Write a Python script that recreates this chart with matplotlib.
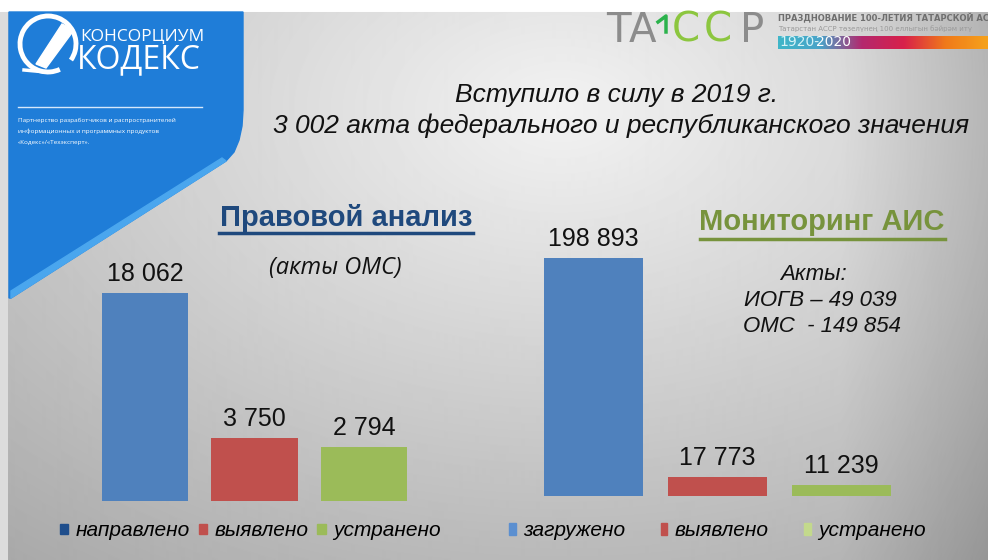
import numpy as np
import matplotlib
matplotlib.use('Agg')
import matplotlib.pyplot as plt
from matplotlib.patches import Polygon, Arc, Patch
from matplotlib.colors import LinearSegmentedColormap

# ============ DATA ============
left_categories = ['направлено', 'выявлено', 'устранено']
left_values = [18062, 3750, 2794]
right_categories = ['загружено', 'выявлено', 'устранено']
right_values = [198893, 17773, 11239]

bar_colors = ['#4f81bd', '#c0504d', '#9bbb59']
left_legend_colors = ['#1f4e8c', '#c0504d', '#9bbb59']
right_legend_colors = ['#5b8fd0', '#c0504d', '#c3d98c']

header_lines = ['Вступило в силу в 2019 г.',
                '3 002 акта федерального и республиканского значения']
ais_notes = ['Акты:', 'ИОГВ – 49 039', 'ОМС  - 149 854']

W, H = 988, 560
fig = plt.figure(figsize=(W / 100, H / 100), dpi=100)

# ============ BACKGROUND (pixel coords) ============
bg = fig.add_axes([0, 0, 1, 1])
bg.axis('off')

yy, xx = np.mgrid[0:H, 0:W]
r = np.sqrt(((xx - 560) / 800.0) ** 2 + ((yy - 110) / 520.0) ** 2)
g = 0.95 - 0.26 * r
g -= 0.10 * np.clip((xx - 840) / 148.0, 0, 1)
g = np.clip(g, 0.55, 1.0)
g[:, :8] = 0.86
g[:12, :] = 1.0
bg.imshow(g, cmap='gray', vmin=0, vmax=1, extent=(0, W, H, 0), aspect='auto',
          interpolation='bilinear')

# blue corner shape
blue_pts = [(9, 12), (243, 12), (243, 110), (242, 126), (239, 140), (234, 152),
            (226, 161), (11, 298), (9, 298)]
bg.add_patch(Polygon(blue_pts, closed=True, color='#1f7dd8', zorder=2))
band = [(226, 161), (11, 298), (11, 291), (222, 158)]
bg.add_patch(Polygon(band, closed=True, color='#4aa6ee', zorder=3))

# Kodeks logo
bg.add_patch(Arc((48, 44), 56, 56, theta1=65, theta2=395, color='white', lw=3.5, zorder=4))
bg.add_patch(Polygon([(36, 64), (62, 24), (74, 30), (46, 68)], closed=True,
                     color='white', zorder=4))
bg.plot([24, 46], [70, 72], color='white', lw=2.5, zorder=4)
bg.text(80, 37, 'КОНСОРЦИУМ', color='white', fontsize=12.5, family='Open Sans',
        va='center', ha='left', zorder=5)
bg.text(77, 60, 'КОДЕКС', color='white', fontsize=23, family='Open Sans',
        va='center', ha='left', zorder=5)
bg.plot([18, 202], [107, 107], color='#d6e8fb', lw=1, zorder=4)
small = ['Партнерство разработчиков и распространителей',
         'информационных и программных продуктов',
         '«Кодекс»/«Техэксперт».']
for i, s in enumerate(small):
    bg.text(18, 120 + i * 11, s, color='white', fontsize=4.6, family='Open Sans',
            va='center', ha='left', zorder=5)

# TASSR logo
tassr_letters = [('Т', 618, '#8c8c8c'), ('А', 642, '#8c8c8c'), ('С', 686, '#8cc63f'),
                 ('С', 718, '#8cc63f'), ('Р', 752, '#8c8c8c')]
for ch, cx, col in tassr_letters:
    bg.text(cx, 31, ch, color=col, fontsize=29, family='DejaVu Sans',
            va='center', ha='center', zorder=5)
bg.plot([658, 666, 666], [22, 16, 32], color='#2bb24c', lw=2.5, zorder=6)
bg.text(778, 18, 'ПРАЗДНОВАНИЕ 100-ЛЕТИЯ ТАТАРСКОЙ АССР', color='#6e6e6e',
        fontsize=6, weight='bold', family='DejaVu Sans', va='center', ha='left', zorder=5)
bg.text(778, 29, 'Татарстан АССР төзелүнең 100 еллыгын бәйрәм итү', color='#9a9a9a',
        fontsize=5, family='DejaVu Sans', va='center', ha='left', zorder=5)
grad = np.linspace(0, 1, 256)[None, :]
tassr_cmap = LinearSegmentedColormap.from_list(
    'tassr', ['#3fb6c8', '#4aa3c8', '#b4286e', '#d8204a', '#f07a1a', '#f6a21c'])
bg.imshow(grad, cmap=tassr_cmap, extent=(778, 988, 49, 36), aspect='auto', zorder=4)
bg.text(779, 42.5, '1920-', color='#d7f3f7', fontsize=10, family='DejaVu Sans',
        va='center', ha='left', zorder=5)
bg.text(816, 42.5, '2020', color='white', fontsize=10, family='DejaVu Sans',
        va='center', ha='left', zorder=5)
bg.set_xlim(0, W)
bg.set_ylim(H, 0)

# header
bg.text(617, 95, header_lines[0], fontsize=19, style='italic', family='Liberation Sans',
        ha='center', va='center', color='#111111', zorder=5)
bg.text(621, 126, header_lines[1], fontsize=19, style='italic', family='Liberation Sans',
        ha='center', va='center', color='#111111', zorder=5)

# chart titles
bg.text(346, 218, 'Правовой анализ', fontsize=21, weight='bold', family='Liberation Sans',
        ha='center', va='center', color='#1f497d', zorder=5)
bg.plot([219, 473], [233, 233], color='#1f497d', lw=2.5, zorder=5)
bg.text(335, 268, '(акты ОМС)', fontsize=17, style='italic', family='Open Sans',
        ha='center', va='center', color='#111111', zorder=5)

bg.text(822, 222, 'Мониторинг АИС', fontsize=21, weight='bold', family='Liberation Sans',
        ha='center', va='center', color='#77933c', zorder=5)
bg.plot([700, 945], [239, 239], color='#77933c', lw=2.5, zorder=5)
note_xy = [(813, 274), (820, 300), (822, 327)]
for (x, y), s in zip(note_xy, ais_notes):
    bg.text(x, y, s, fontsize=16, style='italic', family='Liberation Sans',
            ha='center', va='center', color='#111111', zorder=5)

# ============ BAR CHARTS ============
def fmt(v):
    return f'{v:,}'.replace(',', ' ')

def draw_bars(ax, values, base, width):
    x = np.arange(len(values))
    ax.bar(x, np.array(values) - base, bottom=base, width=width, color=bar_colors, zorder=3)
    for xi, v in zip(x, values):
        ax.annotate(fmt(v), (xi, v), xytext=(0, 8.6), textcoords='offset points',
                    ha='center', va='baseline', fontsize=18, family='Liberation Sans',
                    color='#111111')
    ax.set_xlim(-0.5, len(values) - 0.5)
    ax.axis('off')
    ax.patch.set_alpha(0)

ax1 = fig.add_axes([90.25 / W, (H - 500.7) / H, 328.5 / W, 300.7 / H])
draw_bars(ax1, left_values, -2500, 0.79)
ax1.set_ylim(-2500, 27260)

ax2 = fig.add_axes([531.5 / W, (H - 495.7) / H, 372 / W, 300 / H])
draw_bars(ax2, right_values, 2000, 0.8)
ax2.set_ylim(2000, 250180)

# legends
leg_font = {'family': 'Liberation Sans', 'style': 'italic', 'size': 15}
h1 = [Patch(color=c) for c in left_legend_colors]
ax1.legend(h1, left_categories, loc='center left', bbox_to_anchor=(60 / W, 1 - 531 / H),
           bbox_transform=fig.transFigure, ncol=3, frameon=False, borderpad=0,
           borderaxespad=0, handlelength=0.4, handleheight=0.42, handletextpad=0.36,
           columnspacing=0.42, prop=leg_font)

h2 = [Patch(color=c) for c in right_legend_colors]
ax2.legend(h2, right_categories, loc='center left', bbox_to_anchor=(509 / W, 1 - 531 / H),
           bbox_transform=fig.transFigure, ncol=3, frameon=False, borderpad=0,
           borderaxespad=0, handlelength=0.33, handleheight=0.48, handletextpad=0.34,
           columnspacing=1.7, prop=leg_font)

fig.savefig('out.png', dpi=100)
